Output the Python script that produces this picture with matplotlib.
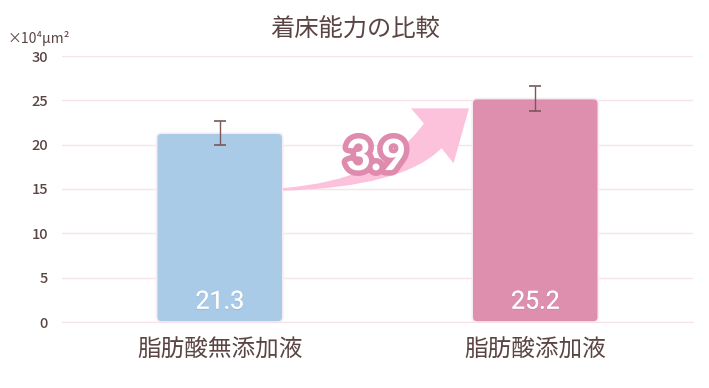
import matplotlib
matplotlib.use("Agg")
import matplotlib.pyplot as plt
from matplotlib.patches import FancyBboxPatch, PathPatch
from matplotlib.path import Path
import matplotlib.patheffects as pe

plt.rcParams['font.family'] = ['Noto Sans CJK JP', 'DejaVu Sans']

categories = ["脂肪酸無添加液", "脂肪酸添加液"]
values = [21.3, 25.2]
errors = [1.35, 1.45]
value_labels = ["21.3", "25.2"]
diff_label = "3.9"
yticks = [0, 5, 10, 15, 20, 25, 30]
title = "着床能力の比較"
unit_label = "×10⁴μm²"

bar_colors = ["#a9cbe7", "#de8fae"]
text_color = "#5a4444"
grid_color = "#f6e4ea"

W, H = 709, 388
fig = plt.figure(figsize=(W / 100, H / 100), dpi=100)
ax = fig.add_axes([62 / W, 66 / H, (693 - 62) / W, (322 - 56) / H])

x = list(range(len(categories)))
bars = ax.bar(x, values, width=0.4, color=bar_colors, zorder=3)
ax.set_xlim(-0.5, 1.5)
ax.set_ylim(0, 30)

# rounded bars
px_per_x = (693 - 62) / 2.0
px_per_y = (322 - 56) / 30.0
aspect = px_per_x / px_per_y
for b, c in zip(bars, bar_colors):
    bx, by = b.get_x(), b.get_y()
    bw, bh = b.get_width(), b.get_height()
    b.set_visible(False)
    p = FancyBboxPatch((bx, by), bw, bh,
                       boxstyle="round,pad=0,rounding_size=%f" % (5 / px_per_x),
                       mutation_aspect=aspect, facecolor=c,
                       edgecolor="#f4eef2", linewidth=1.2, zorder=3)
    ax.add_patch(p)

ax.errorbar(x, values, yerr=errors, fmt="none", ecolor="#7a5858",
            elinewidth=1.0, capsize=4, capthick=1.2, zorder=4)

for xi, lab in zip(x, value_labels):
    ax.text(xi, 2.3, lab, ha="center", va="center", color="white",
            fontsize=18, family=["Roboto", "DejaVu Sans"], zorder=5,
            path_effects=[pe.withSimplePatchShadow(offset=(0, -1), shadow_rgbFace="#8090a0", alpha=0.25),
                          pe.Normal()])

# curved arrow between bars
x0 = x[0] + 0.2
verts = [
    (x0, 15.1),
    (0.52, 16.0), (0.647, 22.4),
    (0.606, 24.1),
    (0.79, 24.1),
    (0.741, 17.9),
    (0.703, 19.6),
    (0.58, 15.2), (x0, 14.8),
    (x0, 15.1),
]
codes = [Path.MOVETO,
         Path.CURVE3, Path.CURVE3,
         Path.LINETO, Path.LINETO, Path.LINETO, Path.LINETO,
         Path.CURVE3, Path.CURVE3,
         Path.CLOSEPOLY]
ax.add_patch(PathPatch(Path(verts, codes), facecolor="#fcc2dc", edgecolor="none", zorder=4))

ax.text(0.495, 18.6, diff_label, ha="center", va="center", color="white",
        fontsize=31, fontweight="black", family=["Lato", "DejaVu Sans"], zorder=6,
        path_effects=[pe.withStroke(linewidth=8, foreground="#df8bae")])

ax.set_yticks(yticks)
ax.set_yticklabels([str(t) for t in yticks])
ax.set_xticks(x)
ax.set_xticklabels(categories, fontsize=17, color=text_color)
ax.tick_params(axis="y", length=0, pad=10, labelsize=10.5, labelcolor=text_color)
for t in ax.get_yticklabels():
    t.set_fontweight("medium")
ax.tick_params(axis="x", length=0, pad=11)
ax.grid(axis="y", color=grid_color, linewidth=1, zorder=0)
for s in ax.spines.values():
    s.set_visible(False)
ax.spines["bottom"].set_visible(True)
ax.spines["bottom"].set_color(grid_color)

fig.text(355 / W, 1 - 30 / H, title, ha="center", va="center", fontsize=17.5,
         color=text_color)
fig.text(8 / W, 1 - 38 / H, unit_label, ha="left", va="center", fontsize=10, color=text_color)

fig.savefig("out.png", dpi=100)
